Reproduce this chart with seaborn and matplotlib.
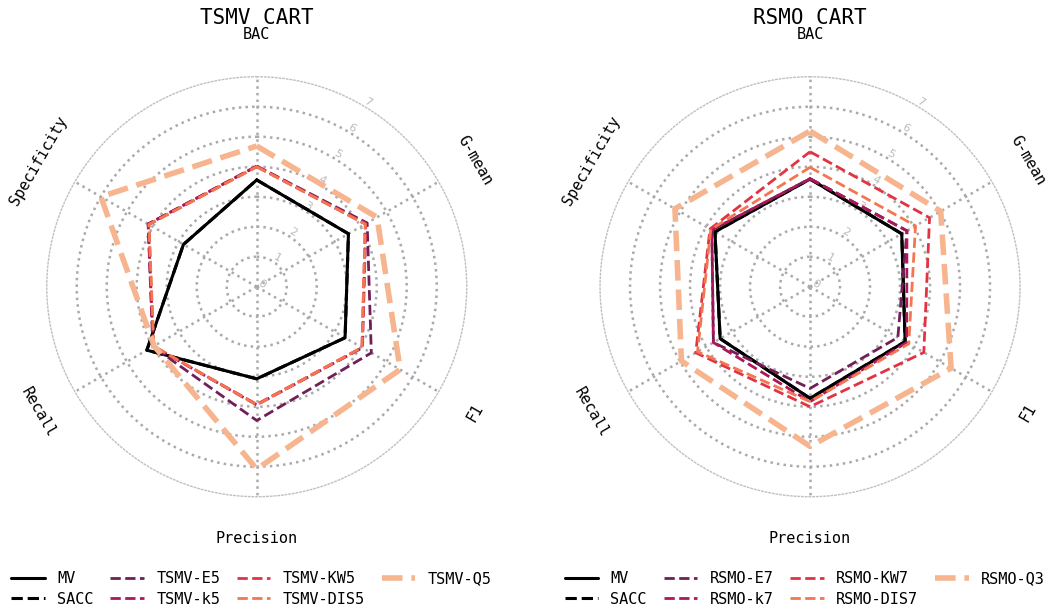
import numpy as np
import matplotlib
matplotlib.use("Agg")
import matplotlib.pyplot as plt
import seaborn as sns

# ---- data ----
metrics = ["BAC", "G-mean", "F1", "Precision", "Recall", "Specificity"]
r_ticks = [0, 1, 2, 3, 4, 5, 6, 7]

left_title = "TSMV CART"
left_names = ["MV", "SACC", "TSMV-E5", "TSMV-k5", "TSMV-KW5", "TSMV-DIS5", "TSMV-Q5"]
left_mv = [3.56, 3.53, 3.40, 3.07, 4.23, 2.82]
left_sacc = [3.56, 3.53, 3.40, 3.07, 4.23, 2.82]
left_e = [4.02, 4.25, 4.41, 4.46, 4.00, 4.18]
left_k = [4.02, 4.20, 4.07, 3.94, 3.98, 4.18]
left_kw = [4.00, 4.18, 4.05, 3.92, 3.98, 4.15]
left_dis = [4.00, 4.18, 4.05, 3.94, 3.96, 4.15]
left_q = [4.69, 4.63, 5.52, 6.08, 3.95, 6.00]

right_title = "RSMO CART"
right_names = ["MV", "SACC", "RSMO-E7", "RSMO-k7", "RSMO-KW7", "RSMO-DIS7", "RSMO-Q3"]
right_mv = [3.59, 3.53, 3.66, 3.72, 3.46, 3.66]
right_sacc = [3.59, 3.53, 3.66, 3.72, 3.46, 3.66]
right_e = [3.60, 3.73, 3.38, 3.39, 3.72, 3.78]
right_k = [3.60, 3.73, 3.72, 3.83, 3.72, 3.78]
right_kw = [4.50, 4.60, 4.38, 4.00, 4.40, 3.85]
right_dis = [3.98, 4.06, 3.80, 3.83, 4.33, 3.82]
right_q = [5.19, 5.03, 5.43, 5.32, 4.95, 5.20]

# ---- style ----
sns.set_style("white")
plt.rcParams["font.family"] = ["DejaVu Sans Mono", "DejaVu Sans"]
plt.rcParams["text.color"] = "black"

rocket = sns.color_palette("rocket", 6)
colors = ["black", "black", rocket[1], rocket[2], rocket[3], rocket[4], rocket[5]]
styles = ["-", "--", "--", "--", "--", "--", "--"]
widths = [2.2, 2.2, 2.0, 2.0, 2.0, 2.0, 4.0]

fig = plt.figure(figsize=(10.62, 6.1), dpi=100)

angles = np.linspace(0, 2 * np.pi, len(metrics), endpoint=False)


def radar(rect, title, names, series):
    ax = fig.add_axes(rect, projection="polar")
    ax.set_theta_offset(np.pi / 2)
    ax.set_theta_direction(-1)
    theta = np.append(angles, angles[0])
    handles = []
    for name, vals, c, ls, lw in zip(names, series, colors, styles, widths):
        r = np.append(vals, vals[0])
        sns.lineplot(x=theta, y=r, ax=ax, sort=False, estimator=None,
                     color=c, linestyle=ls, linewidth=lw, label=name, legend=False)
        handles.append(ax.get_lines()[-1])
    ax.set_ylim(0, 7)
    ax.set_yticks(r_ticks)
    ax.set_yticklabels([str(t) for t in r_ticks], color="#bbbbbb", fontsize=8,
                       family="DejaVu Sans")
    ax.set_rlabel_position(30)
    ax.tick_params(axis="y", labelrotation=-30, pad=0)
    ax.set_xticks(angles)
    ax.set_xticklabels([])
    ax.grid(True, linestyle=":", linewidth=1.8, color="#aaaaaa")
    ax.yaxis.get_gridlines()[-1].set_visible(False)
    ax.spines["polar"].set_linestyle(":")
    ax.spines["polar"].set_linewidth(1.0)
    ax.spines["polar"].set_color("#c0c0c0")
    for a, m in zip(angles, metrics):
        deg = np.degrees(a)
        rot = -deg
        while rot <= -90:
            rot += 180
        while rot > 90:
            rot -= 180
        ax.text(a, 8.4, m, rotation=rot, ha="center", va="center",
                rotation_mode="anchor", fontsize=11, clip_on=False)
    ax.text(0.5, 1.141, title, transform=ax.transAxes, ha="center", va="center",
            fontsize=15)
    ax.legend(handles, names, ncol=4, loc="upper center",
              bbox_to_anchor=(0.487, -0.145), frameon=False, fontsize=11,
              handlelength=2.2, handletextpad=0.8, columnspacing=1.1,
              labelspacing=0.35)
    return ax


radar([0.044, 0.1857, 0.3955, 0.6885], left_title, left_names,
      [left_mv, left_sacc, left_e, left_k, left_kw, left_dis, left_q])
radar([0.565, 0.1857, 0.3955, 0.6885], right_title, right_names,
      [right_mv, right_sacc, right_e, right_k, right_kw, right_dis, right_q])

fig.savefig("out.png", dpi=100)
